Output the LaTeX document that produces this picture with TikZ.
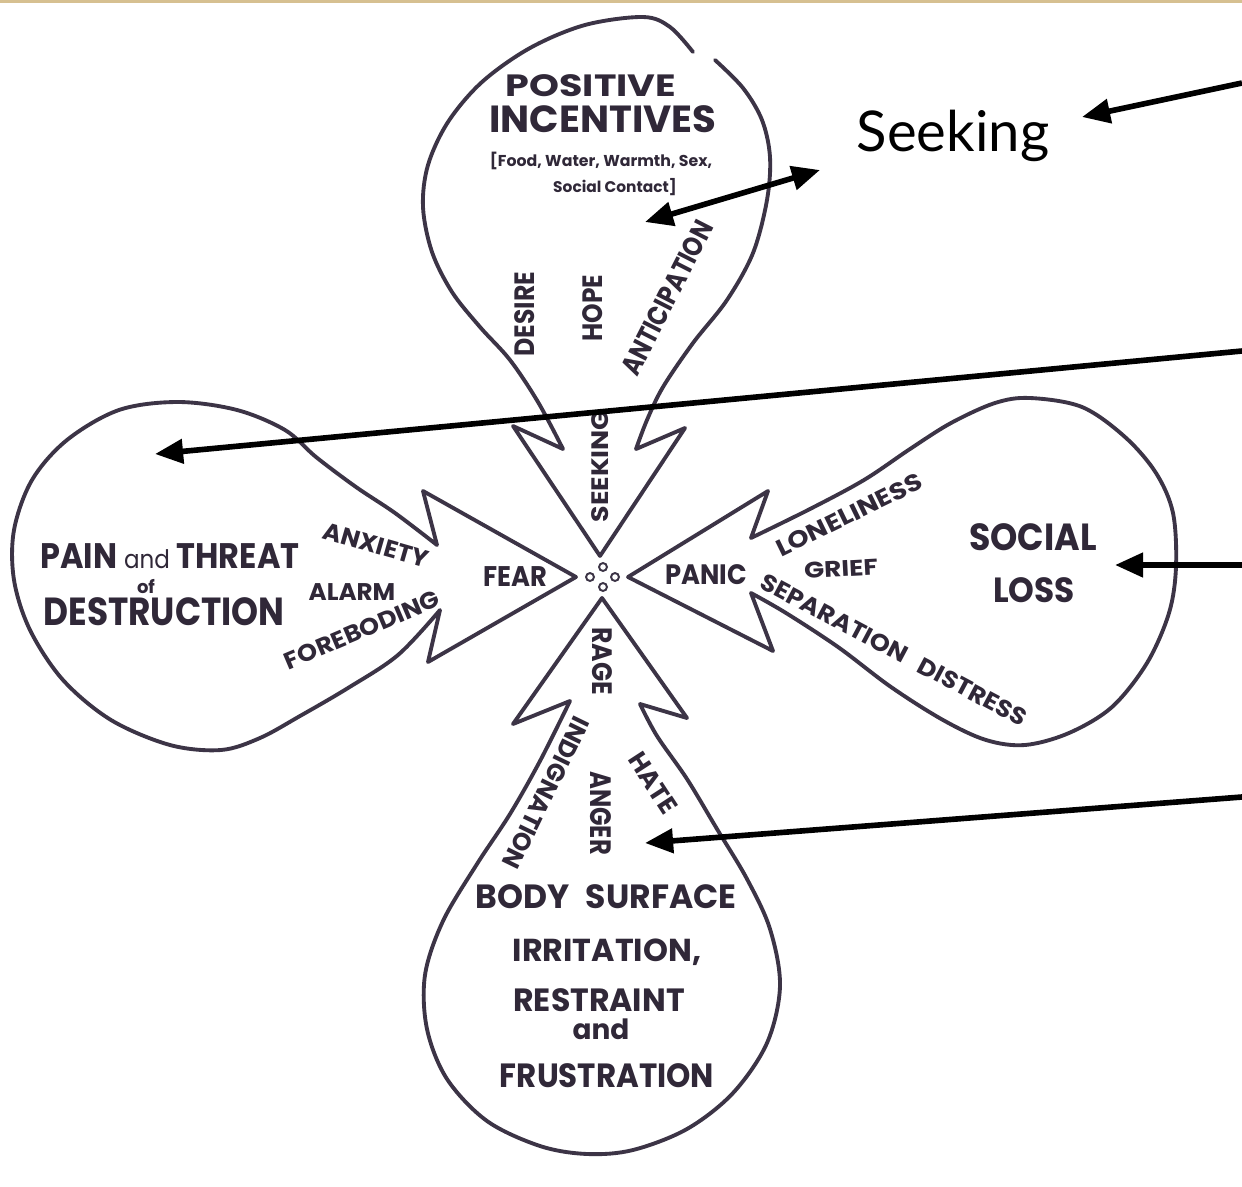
\documentclass[tikz,border=0pt]{standalone}
\usepackage{fontspec}
\usepackage{graphicx}
\setmainfont{Poppins}
\newfontfamily\lato{Lato}
\usetikzlibrary{arrows.meta}
\newdimen\px \px=0.56693pt
\newcommand\tx[3]{\resizebox{#1\px}{#2\px}{#3}}
\newcommand\tw[2]{\resizebox{#1\px}{!}{#2}}
\definecolor{ink}{RGB}{60,52,70}
\definecolor{txtink}{RGB}{48,40,56}
\definecolor{tanstrip}{RGB}{214,192,145}
\begin{document}
\begin{tikzpicture}[x=0.02cm,y=-0.02cm,
  lobe/.style={draw=ink,line width=2.2pt,line join=round,line cap=round},
  lab/.style={inner sep=0pt,text=txtink,font=\bfseries},
  dot/.style={draw=ink,line width=1.1pt,circle,minimum size=4.5pt,inner sep=0pt},
  arr/.style={draw=black,line width=3.2pt,-{Triangle[length=16pt,width=13.5pt]}},
  darr/.style={draw=black,line width=3.2pt,{Triangle[length=16pt,width=13.5pt]}-{Triangle[length=16pt,width=13.5pt]}}]
\fill[white] (0,0) rectangle (1242,1187);
\useasboundingbox (0,0) rectangle (1242,1187);
\fill[tanstrip] (0,0) rectangle (1242,3);

% top lobe (with small gap at upper right)
\draw[lobe] (600,556) -- (513,426) -- plot[smooth,tension=0.55] coordinates {(563,449) (538,402) (510,360) (480,327) (452,292) (432,252) (423,207) (428,165) (448,122) (482,82) (530,48) (585,25) (643,17) (670,27) (693,52)};
\draw[lobe] plot[smooth,tension=0.55] coordinates {(715,60) (743,88) (762,120) (770,157) (767,200) (753,253) (727,300) (693,343) (663,387) (647,420) (636,449)} -- (685,428) -- (600,556);

% left lobe
\draw[lobe] (576,577) -- (423,491) -- plot[smooth,tension=0.55] coordinates {(437,545) (395,513) (356,487) (316,457) (285,430) (237,410) (178,402) (119,410) (67,440) (32,480) (14,530) (14,580) (30,630) (63,680) (111,720) (170,745) (221,750) (260,738) (300,716) (348,688) (398,655) (440,610)} -- (428,662) -- cycle;

% right lobe
\draw[lobe] (628,577) -- (768,491) -- plot[smooth,tension=0.55] coordinates {(751,538) (810,509) (864,480) (910,449) (951,423) (995,403) (1030,398) (1082,407) (1125,437) (1156,473) (1173,513) (1176,567) (1169,613) (1147,663) (1112,707) (1069,733) (1025,745) (986,740) (943,720) (891,687) (838,647) (786,613) (751,593)} -- (773,651) -- cycle;

% bottom lobe
\draw[lobe] (602,598) -- (513,724) -- plot[smooth,tension=0.55] coordinates {(570,701) (540,761) (510,814) (477,864) (443,921) (425,975) (427,1029) (447,1079) (487,1121) (540,1146) (587,1154) (633,1150) (687,1129) (733,1093) (767,1043) (780,986) (770,929) (747,879) (717,829) (687,779) (657,736) (640,704)} -- (687,718) -- cycle;

% centre circles
\node[dot] (c1) at (590,577) {};
\node[dot] (c2) at (603,567) {};
\node[dot] (c3) at (615,577) {};
\node[dot] (c4) at (603,587) {};

% top lobe text
\node[lab] (pos) at (591,86) {\tx{171}{22}{POSITIVE}};
\node[lab] (inc) at (603,119) {\tx{228}{27}{INCENTIVES}};
\node[lab,anchor=base] (food) at (601,166) {\tw{223}{[Food, Water, Warmth, Sex,}};
\node[lab,anchor=base] (soc) at (615,192) {\tw{124}{Social Contact]}};
\node[lab,rotate=90] (des) at (525,314) {\tx{85}{20}{DESIRE}};
\node[lab,rotate=90] (hope) at (593,308) {\tx{67}{20}{HOPE}};
\node[lab,rotate=63] (ant) at (667,298) {\tx{170}{20}{ANTICIPATION}};
\node[lab,rotate=90] (seekw) at (600,466) {\tx{113}{17}{SEEKING}};

% left lobe text
\node[lab] (pain) at (170,556) {\tx{260}{25}{PAIN \scalebox{0.72}{\mdseries and} THREAT}};
\node[lab] (of) at (146,587) {\tw{18}{of}};
\node[lab] (destr) at (164,612) {\tx{242}{28}{DESTRUCTION}};
\node[lab,rotate=-16] (anx) at (376,545) {\tx{109}{17}{ANXIETY}};
\node[lab] (alarm) at (352,592) {\tx{87}{17}{ALARM}};
\node[lab,rotate=23] (fore) at (362,630) {\tx{167}{17}{FOREBODING}};
\node[lab] (fear) at (515,577) {\tx{64}{20}{FEAR}};

% right lobe text
\node[lab] (panic) at (706,575) {\tx{82}{20}{PANIC}};
\node[lab,rotate=26] (lone) at (849,515) {\tx{160}{17}{LONELINESS}};
\node[lab,rotate=3] (grief) at (841,569) {\tx{74}{16}{GRIEF}};
\node[lab,rotate=-28] (sep) at (894,650) {\tx{299}{17}{SEPARATION\hspace{0.6em}DISTRESS}};
\node[lab] (social) at (1033,537) {\tx{128}{27}{SOCIAL}};
\node[lab] (loss) at (1034,590) {\tx{82}{25}{LOSS}};

% bottom lobe text
\node[lab,rotate=-90] (rage) at (602,661) {\tx{68}{20}{RAGE}};
\node[lab,rotate=-116] (indig) at (546,793) {\tx{166}{18}{INDIGNATION}};
\node[lab,rotate=-90] (anger) at (601,813) {\tx{84}{21}{ANGER}};
\node[lab,rotate=-57] (hate) at (653,783) {\tx{68}{18}{HATE}};
\node[lab] (body) at (606,897) {\tx{262}{24}{BODY\hspace{0.5em}SURFACE}};
\node[lab,anchor=base] (irr) at (607,961) {\tw{189}{IRRITATION,}};
\node[lab] (restr) at (599,1000) {\tx{172}{23}{RESTRAINT}};
\node[lab] (and2) at (601,1029) {\tw{57}{and}};
\node[lab] (frus) at (607,1076) {\tx{215}{24}{FRUSTRATION}};

% overlay label and arrows
\node[anchor=base,inner sep=0pt] (seek) at (953,151) {\lato\tw{193}{Seeking}};
\coordinate (s1) at (1242,83);  \coordinate (s1t) at (1082,117);
\coordinate (d1) at (645,222);  \coordinate (d2) at (820,170);
\coordinate (p1) at (1242,351); \coordinate (p1t) at (155,454);
\coordinate (l1) at (1242,565); \coordinate (l1t) at (1115,565);
\coordinate (g1) at (1242,797); \coordinate (g1t) at (645,843);
\draw[arr] (s1) -- (s1t);
\draw[darr] (d1) -- (d2);
\draw[arr] (p1) -- (p1t);
\draw[arr] (l1) -- (l1t);
\draw[arr] (g1) -- (g1t);
\end{tikzpicture}
\end{document}
